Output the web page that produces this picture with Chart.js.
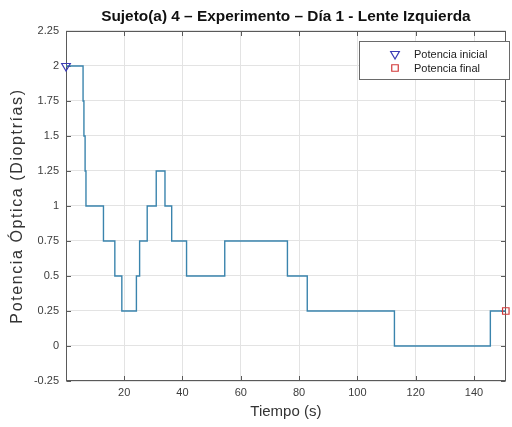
<!DOCTYPE html>
<html>
<head>
<meta charset="utf-8">
<script src="https://cdn.jsdelivr.net/npm/chart.js@4/dist/chart.umd.min.js"></script>
<style>
  html, body { margin: 0; padding: 0; background: #ffffff; }
  #wrap { width: 512px; height: 427px; position: relative; }
</style>
</head>
<body>
<div id="wrap"><canvas id="c" width="512" height="427"></canvas></div>
<script>
// Step signal: each level starts at the given time (s) and holds until the next one.
const levelStartTimes = [0.05, 5.9, 6.2, 6.6, 6.9, 12.9, 16.8, 19.2, 24.2, 25.3, 27.9, 31.0, 34.0, 36.3, 41.4, 54.5, 76.0, 82.8, 112.7, 145.6, 150.9];
const powerLevels     = [2.0, 1.75, 1.5, 1.25, 1.0, 0.75, 0.5, 0.25, 0.5, 0.75, 1.0, 1.25, 1.0, 0.75, 0.5, 0.75, 0.5, 0.25, 0.0, 0.25, 0.25];

const initialPoint = { t: 0.05, p: 2.0 };
const finalPoint   = { t: 150.9, p: 0.25 };

const xTickValues = [20, 40, 60, 80, 100, 120, 140];
const yTickValues = [-0.25, 0, 0.25, 0.5, 0.75, 1, 1.25, 1.5, 1.75, 2, 2.25];

const titleText  = 'Sujeto(a) 4 \u2013 Experimento \u2013 D\u00eda 1 - Lente Izquierda';
const xAxisLabel = 'Tiempo (s)';
const yAxisLabel = 'Potencia \u00d3ptica (Dioptr\u00edas)';
const legendLabels = ['Potencia inicial', 'Potencia final'];

const FONT = "'Liberation Sans', Arial, Helvetica, sans-serif";
const AXIS_COLOR = '#5a5a5a';
const TEXT_COLOR = '#333333';

const stepData = levelStartTimes.map((t, i) => ({ x: t, y: powerLevels[i] }));

// Box around the plot area with inward tick marks on all four sides.
const boxPlugin = {
  id: 'axesBox',
  beforeDatasetsDraw(chart) {
    const { ctx, chartArea: a, scales: { x, y } } = chart;
    const L = Math.round(a.left) + 0.5, R = Math.round(a.right) - 0.5;
    const T = Math.round(a.top) + 0.5, B = Math.round(a.bottom) - 0.5;
    const len = 4.5;
    ctx.save();
    ctx.strokeStyle = AXIS_COLOR;
    ctx.lineWidth = 1;
    ctx.beginPath();
    x.ticks.forEach(tk => {
      const px = Math.round(x.getPixelForValue(tk.value)) + 0.5;
      ctx.moveTo(px, B); ctx.lineTo(px, B - len);
      ctx.moveTo(px, T); ctx.lineTo(px, T + len);
    });
    y.ticks.forEach(tk => {
      const py = Math.round(y.getPixelForValue(tk.value)) + 0.5;
      ctx.moveTo(L, py); ctx.lineTo(L + len, py);
      ctx.moveTo(R, py); ctx.lineTo(R - len, py);
    });
    ctx.stroke();
    ctx.strokeRect(L, T, R - L, B - T);
    ctx.restore();
  }
};

// Legend box drawn inside the upper right corner of the plot area.
const insideLegend = {
  id: 'insideLegend',
  afterDraw(chart) {
    const { ctx } = chart;
    const bx = 359.5, by = 41.5, bw = 150, bh = 38;
    ctx.save();
    ctx.fillStyle = '#ffffff';
    ctx.fillRect(bx, by, bw, bh);
    ctx.strokeStyle = '#6a6a6a';
    ctx.lineWidth = 1;
    ctx.strokeRect(bx, by, bw, bh);
    ctx.font = '11px ' + FONT;
    ctx.textBaseline = 'middle';
    ctx.textAlign = 'left';
    [1, 2].forEach((di, i) => {
      const ds = chart.data.datasets[di];
      const cy = by + 12.5 + i * 14;
      ctx.fillStyle = 'rgba(0,0,0,0)';
      ctx.strokeStyle = ds.pointBorderColor;
      ctx.lineWidth = ds.pointBorderWidth;
      Chart.helpers.drawPoint(ctx, {
        pointStyle: ds.pointStyle,
        rotation: ds.rotation || 0,
        radius: ds.pointRadius,
        borderWidth: ds.pointBorderWidth
      }, 395, cy);
      ctx.fillStyle = '#222222';
      ctx.fillText(ds.label, 414, cy + 0.5);
    });
    ctx.restore();
  }
};

// The vertical axis title is set with a little letter spacing.
function spacedTitle(scale, spacing) {
  const base = Object.getPrototypeOf(scale).drawTitle;
  scale.drawTitle = function () {
    const ctx = this.ctx;
    const prev = ctx.letterSpacing;
    ctx.letterSpacing = spacing;
    base.call(this);
    ctx.letterSpacing = prev || '0px';
  };
}

new Chart(document.getElementById('c'), {
  type: 'line',
  data: {
    datasets: [
      {
        label: 'Potencia',
        data: stepData,
        stepped: true,
        borderColor: '#3a84ad',
        borderWidth: 1.4,
        pointRadius: 0,
        fill: false,
        order: 2
      },
      {
        label: legendLabels[0],
        data: [{ x: initialPoint.t, y: initialPoint.p }],
        showLine: false,
        pointStyle: 'triangle',
        rotation: 180,
        pointRadius: 5,
        pointBorderWidth: 1.2,
        pointBorderColor: '#3b3bb5',
        pointBackgroundColor: 'rgba(0,0,0,0)',
        clip: false,
        order: 1
      },
      {
        label: legendLabels[1],
        data: [{ x: finalPoint.t, y: finalPoint.p }],
        showLine: false,
        pointStyle: 'rect',
        pointRadius: 4.6,
        pointBorderWidth: 1.2,
        pointBorderColor: '#d23a3a',
        pointBackgroundColor: 'rgba(0,0,0,0)',
        clip: false,
        order: 0
      }
    ]
  },
  options: {
    responsive: false,
    animation: false,
    devicePixelRatio: 1,
    layout: { padding: { left: 0, right: 1, top: 0, bottom: 0 } },
    plugins: {
      legend: { display: false },
      tooltip: { enabled: false },
      title: {
        display: true,
        text: titleText,
        fullSize: false,
        color: '#111111',
        font: { family: FONT, size: 15.4, weight: 'bold', lineHeight: 1.2 },
        padding: { top: 8, bottom: 4.5 }
      }
    },
    scales: {
      x: {
        type: 'linear',
        min: initialPoint.t,
        max: finalPoint.t,
        afterBuildTicks(scale) { scale.ticks = xTickValues.map(v => ({ value: v })); },
        afterFit(scale) { scale.height = 46; },
        grid: { color: '#e3e3e3', lineWidth: 1, drawTicks: false },
        border: { display: false },
        ticks: {
          color: '#3c3c3c',
          font: { family: FONT, size: 11 },
          padding: 5,
          maxRotation: 0,
          callback: v => String(v)
        },
        title: {
          display: true,
          text: xAxisLabel,
          color: TEXT_COLOR,
          font: { family: FONT, size: 15, lineHeight: 1.2 },
          padding: { top: 0, bottom: 6 }
        }
      },
      y: {
        type: 'linear',
        min: yTickValues[0],
        max: yTickValues[yTickValues.length - 1],
        afterBuildTicks(scale) { scale.ticks = yTickValues.map(v => ({ value: v })); },
        afterFit(scale) { scale.width = 66; spacedTitle(scale, '1.6px'); },
        grid: { color: '#e3e3e3', lineWidth: 1, drawTicks: false },
        border: { display: false },
        ticks: {
          color: '#3c3c3c',
          font: { family: FONT, size: 11 },
          padding: 7,
          callback: v => String(v)
        },
        title: {
          display: true,
          text: yAxisLabel,
          color: TEXT_COLOR,
          font: { family: FONT, size: 16, lineHeight: 1.2 },
          padding: { top: 8, bottom: 0 }
        }
      }
    }
  },
  plugins: [boxPlugin, insideLegend]
});
</script>
</body>
</html>
